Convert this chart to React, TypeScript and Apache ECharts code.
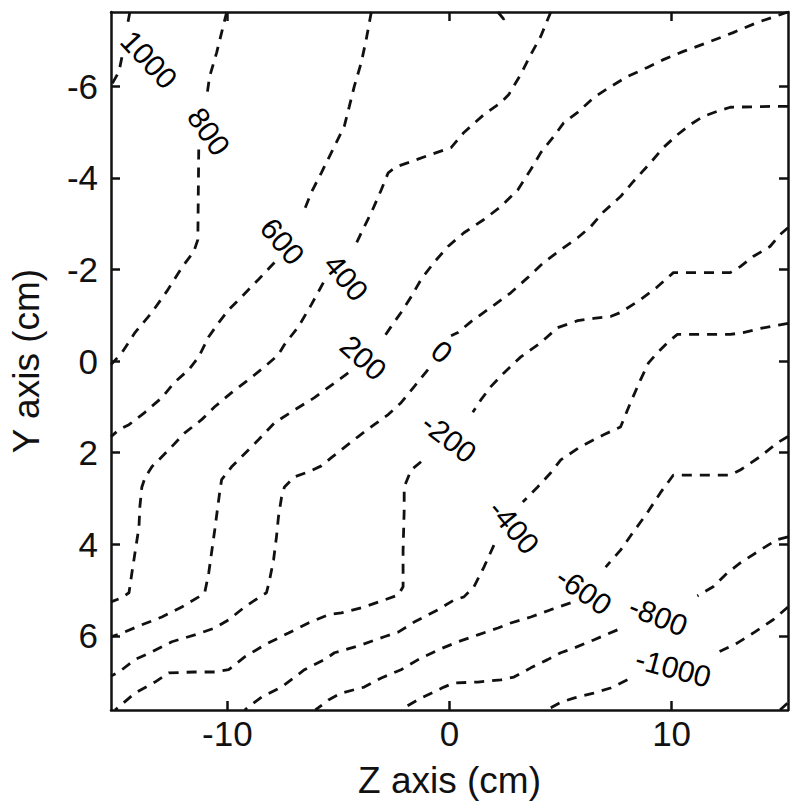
import React, { useEffect, useRef } from "react";
import * as echarts from "echarts";

// Axis ranges (cm)
const Z_RANGE = [-15.24, 15.24];
const Y_RANGE = [-7.62, 7.62];
const Z_TICKS = [-10, 0, 10];
const Y_TICKS = [-6, -4, -2, 0, 2, 4, 6];

// Contour polylines [z, y]; null = break (label gap)
const c1000 = [[-14.39, -7.62], [-14.52, -7.28], null, [-14.75, -6.63], [-14.88, -6.32], [-15.24, -6.01]];

const c800 = [[-10.03, -7.62], [-10.26, -7.17], [-10.48, -6.74], [-10.8, -6.21], [-10.93, -5.77], null,
  [-11.29, -4.62], [-11.33, -2.65], [-11.51, -2.39], [-12.05, -2.04], [-12.73, -1.52], [-13.4, -1.06],
  [-14.16, -0.62], [-14.75, -0.18], [-15.24, 0.08]];

const c600 = [[-3.52, -7.62], [-3.75, -7.02], [-3.97, -6.52], [-4.29, -5.99], [-4.51, -5.56], [-4.74, -5.12],
  [-5.32, -4.55], [-5.77, -4.11], [-6.22, -3.68], [-6.58, -3.24], null,
  [-7.88, -2.15], [-8.6, -1.78], [-9.36, -1.4], [-9.94, -1.12], [-10.39, -0.84], [-10.84, -0.53],
  [-11.29, -0.09], [-11.74, 0.19], [-12.41, 0.48], [-12.95, 0.8], [-13.71, 1.12], [-14.43, 1.39],
  [-14.88, 1.5], [-15.24, 1.65]];

const c400 = [[4.56, -7.62], [4.11, -7.09], [3.66, -6.69], [3.21, -6.26], [2.67, -5.82], [2.31, -5.64],
  [1.55, -5.38], [0.65, -4.99], [0.07, -4.66], [-0.83, -4.51], [-1.86, -4.33], [-2.4, -4.24],
  [-2.76, -4.11], [-3.07, -3.74], [-3.52, -3.24], [-3.97, -2.8], [-4.33, -2.43], null,
  [-5.68, -1.71], [-6.22, -1.23], [-6.8, -0.75], [-7.43, -0.36], [-7.7, -0.14], [-8.33, 0.13],
  [-9.05, 0.41], [-9.81, 0.69], [-10.57, 1.0], [-11.16, 1.28], [-11.92, 1.57], [-12.64, 1.94],
  [-13.4, 2.31], [-13.71, 2.55], [-13.85, 2.75], [-13.94, 3.18], [-13.98, 3.62], [-14.16, 4.19],
  [-14.3, 4.63], [-14.43, 5.06], [-14.75, 5.17], [-15.24, 5.26], null,
  [2.18, -7.62], [2.45, -7.46], [2.67, -7.62]];

const c200 = [[15.24, -7.62], [13.85, -7.39], [12.77, -7.17], [11.6, -6.95], [10.53, -6.76], [9.63, -6.58],
  [8.91, -6.41], [8.01, -6.21], [7.25, -5.99], [6.49, -5.75], [5.77, -5.43], [5.14, -5.2],
  [4.69, -4.9], [4.11, -4.55], [3.66, -4.18], [3.08, -3.74], [2.31, -3.37], [1.55, -3.09],
  [0.65, -2.8], [-0.07, -2.5], [-0.7, -2.15], [-1.28, -1.78], [-1.73, -1.4], [-2.18, -1.06],
  [-2.63, -0.75], [-2.94, -0.53], null,
  [-4.56, 0.26], [-5.18, 0.48], [-6.08, 0.8], [-6.98, 1.07], [-7.88, 1.35], [-8.6, 1.72],
  [-9.36, 2.09], [-9.81, 2.31], [-10.26, 2.59], [-10.35, 2.88], [-10.57, 3.69], [-10.84, 4.63],
  [-11.02, 5.06], [-11.29, 5.15], [-12.05, 5.37], [-12.95, 5.59], [-13.85, 5.76], [-14.75, 5.94],
  [-15.24, 6.02]];

const c0 = [[15.24, -5.56], [14.57, -5.56], [12.64, -5.54], [12.05, -5.45], [11.42, -5.34], [10.84, -5.16],
  [10.26, -4.94], [9.63, -4.66], [9.05, -4.33], [8.28, -3.92], [7.7, -3.59], [6.94, -3.26],
  [6.35, -2.93], [5.77, -2.69], [5.01, -2.43], [4.24, -2.15], [3.52, -1.82], [2.76, -1.49],
  [1.86, -1.17], [0.97, -0.86], [0.38, -0.62], [0.07, -0.55], null,
  [-0.97, 0.19], [-1.59, 0.56], [-2.18, 0.91], [-2.76, 1.17], [-3.39, 1.39], [-4.11, 1.65],
  [-4.87, 1.94], [-5.32, 2.11], [-5.77, 2.29], [-6.35, 2.42], [-6.98, 2.53], [-7.43, 2.75],
  [-7.56, 2.97], [-7.7, 3.4], [-7.79, 3.84], [-7.92, 4.34], [-8.1, 4.78], [-8.24, 5.06],
  [-8.6, 5.17], [-9.22, 5.37], [-9.94, 5.65], [-10.57, 5.83], [-11.47, 5.98], [-12.5, 6.13],
  [-13.4, 6.35], [-14.16, 6.52], [-14.88, 6.79], [-15.24, 6.88]];

const cm200 = [[15.24, -2.91], [14.88, -2.76], [14.43, -2.5], [13.67, -2.28], [13.09, -2.06], [12.64, -1.93],
  [11.29, -1.93], [10.08, -1.93], [9.36, -1.62], [8.6, -1.34], [7.7, -1.06], [7.25, -0.97],
  [6.49, -0.93], [5.77, -0.88], [4.87, -0.73], [4.11, -0.4], [3.21, -0.09], [2.45, 0.26],
  [1.86, 0.56], [1.41, 0.85], [1.05, 1.12], null,
  [-1.28, 2.2], [-1.73, 2.38], [-2.04, 2.75], [-2.04, 3.25], [-2.09, 4.13], [-2.09, 4.93],
  [-2.31, 5.11], [-2.94, 5.22], [-3.84, 5.37], [-4.87, 5.5], [-5.45, 5.54], [-6.35, 5.72],
  [-7.25, 5.94], [-8.33, 6.2], [-9.22, 6.46], [-9.94, 6.74], [-10.57, 6.79], [-11.47, 6.79],
  [-12.64, 6.81], [-13.26, 7.01], [-14.16, 7.25], [-14.88, 7.55], [-15.06, 7.62]];

const cm400 = [[15.24, -0.82], [14.88, -0.79], [13.98, -0.71], [13.22, -0.62], [12.64, -0.58], [11.29, -0.58],
  [10.26, -0.58], [9.81, -0.4], [9.36, -0.18], [8.96, 0.04], [8.6, 0.41], [8.15, 0.91],
  [7.7, 1.44], [6.94, 1.61], [5.9, 1.87], [5.01, 2.16], [4.56, 2.44], [3.97, 2.75], [3.3, 3.08], null,
  [2.0, 4.02], [1.55, 4.5], [1.1, 4.93], [0.65, 5.15], [0.2, 5.22], [-0.52, 5.43],
  [-1.59, 5.7], [-2.31, 5.92], [-2.94, 6.02], [-3.97, 6.2], [-5.18, 6.37], [-5.63, 6.52],
  [-6.53, 6.74], [-7.56, 7.12], [-8.46, 7.34], [-9.05, 7.55], [-9.22, 7.62]];

const cm600 = [[15.24, 1.65], [14.75, 1.79], [13.98, 2.09], [13.09, 2.38], [12.64, 2.49], [11.29, 2.49],
  [10.08, 2.49], [9.49, 2.88], [8.91, 3.31], [8.28, 3.73], [7.7, 4.13], [7.03, 4.5], null,
  [5.45, 5.28], [4.56, 5.43], [3.66, 5.59], [2.76, 5.72], [2.18, 5.83], [1.28, 5.98],
  [0.38, 6.13], [-0.52, 6.31], [-1.41, 6.52], [-2.18, 6.74], [-3.07, 6.92], [-3.84, 7.12],
  [-4.87, 7.25], [-5.45, 7.4], [-5.9, 7.57], [-6.04, 7.62]];

const cm800 = [[15.24, 3.84], [14.75, 3.9], [13.98, 4.13], [13.09, 4.41], [12.5, 4.63], [11.87, 4.93],
  [11.16, 5.13], null,
  [7.56, 5.87], [6.49, 6.09], [5.59, 6.27], [5.01, 6.37], [4.42, 6.52], [3.66, 6.7],
  [2.9, 6.9], [2.31, 6.96], [1.28, 7.01], [0.2, 7.03], [-0.25, 7.12], [-1.28, 7.36],
  [-2.04, 7.57], [-2.18, 7.62]];

const cm1000 = [[15.24, 5.37], [14.57, 5.65], [13.67, 5.94], [12.95, 6.16], [12.05, 6.37], null,
  [8.01, 6.96], [7.25, 7.14], [6.49, 7.25], [5.59, 7.36], [5.01, 7.45], [4.56, 7.57], [4.33, 7.62]];

const cm1200 = [[14.88, 7.62], [15.24, 7.46]];

const CONTOURS = [c1000, c800, c600, c400, c200, c0, cm200, cm400, cm600, cm800, cm1000, cm1200];

// Contour labels: text, z, y, angle (deg)
const LABEL_TEXT = ["1000", "800", "600", "400", "200", "0", "-200", "-400", "-600", "-800", "-1000"];
const LABEL_Z = [-13.53, -10.84, -7.52, -4.65, -3.88, -0.34, -0.02, 2.9, 6.05, 9.4, 10.08];
const LABEL_Y = [-6.58, -5.01, -2.61, -1.82, -0.07, -0.2, 1.68, 3.62, 5.02, 5.57, 6.7];
const LABEL_ANGLE = [-47, -55, -50, -50, -42, -40, -38, -50, -35, -22, -15];

const FONT = "'Liberation Sans', Arial, sans-serif";

export default function App() {
  const ref = useRef<HTMLDivElement>(null);
  useEffect(() => {
    if (!ref.current) return;
    const chart = echarts.init(ref.current, undefined, { renderer: "svg" });
    const axisLine = { show: true, onZero: false, lineStyle: { color: "#111", width: 2.5 } };
    const tickStyle = { color: "#111", width: 2.5 };
    const lineSeries = CONTOURS.map((pts) => ({
      type: "line",
      data: pts.map((p) => (p ? p : ["-", "-"])),
      symbol: "none",
      showSymbol: false,
      connectNulls: false,
      silent: true,
      lineStyle: { color: "#111", width: 2.8, type: [10, 8] },
    }));
    const labelSeries = {
      type: "scatter",
      symbolSize: 1,
      silent: true,
      itemStyle: { color: "rgba(0,0,0,0)" },
      data: LABEL_TEXT.map((t, i) => ({
        name: t,
        value: [LABEL_Z[i], LABEL_Y[i]],
        label: { rotate: LABEL_ANGLE[i] },
      })),
      label: {
        show: true,
        position: "inside",
        formatter: (p: any) => p.name,
        color: "#000",
        opacity: 1,
        textBorderWidth: 0,
        fontSize: 30,
        fontFamily: FONT,
        align: "center",
        verticalAlign: "middle",
      },
    };
    chart.setOption({
      animation: false,
      backgroundColor: "#fff",
      grid: { left: 109, right: 12, top: 12, bottom: 97 },
      xAxis: [
        {
          type: "value",
          min: Z_RANGE[0],
          max: Z_RANGE[1],
          position: "bottom",
          axisLine,
          axisTick: { show: true, inside: true, length: 9, lineStyle: tickStyle, customValues: Z_TICKS },
          axisLabel: { show: true, customValues: Z_TICKS, fontSize: 35, color: "#111", fontFamily: FONT, margin: 6 },
          splitLine: { show: false },
          name: "Z axis (cm)",
          nameLocation: "middle",
          nameGap: 52,
          nameTextStyle: { fontSize: 37, color: "#111", fontFamily: FONT },
        },
        {
          type: "value",
          min: Z_RANGE[0],
          max: Z_RANGE[1],
          position: "top",
          axisLine,
          axisTick: { show: true, inside: true, length: 9, lineStyle: tickStyle, customValues: Z_TICKS },
          axisLabel: { show: false },
          splitLine: { show: false },
        },
      ],
      yAxis: [
        {
          type: "value",
          inverse: true,
          min: Y_RANGE[0],
          max: Y_RANGE[1],
          position: "left",
          axisLine,
          axisTick: { show: true, inside: true, length: 9, lineStyle: tickStyle, customValues: Y_TICKS },
          axisLabel: { show: true, customValues: Y_TICKS, fontSize: 35, color: "#111", fontFamily: FONT, margin: 13 },
          splitLine: { show: false },
          name: "Y axis (cm)",
          nameLocation: "middle",
          nameRotate: 90,
          nameGap: 66,
          nameTextStyle: { fontSize: 37, color: "#111", fontFamily: FONT },
        },
        {
          type: "value",
          inverse: true,
          min: Y_RANGE[0],
          max: Y_RANGE[1],
          position: "right",
          axisLine,
          axisTick: { show: true, inside: true, length: 9, lineStyle: tickStyle, customValues: Y_TICKS },
          axisLabel: { show: false },
          splitLine: { show: false },
        },
      ],
      series: [...lineSeries, labelSeries],
    });
    return () => chart.dispose();
  }, []);
  return (
    <div
      ref={ref}
      style={{ position: "fixed", left: 0, top: 0, width: 800, height: 807, background: "#fff" }}
    />
  );
}
